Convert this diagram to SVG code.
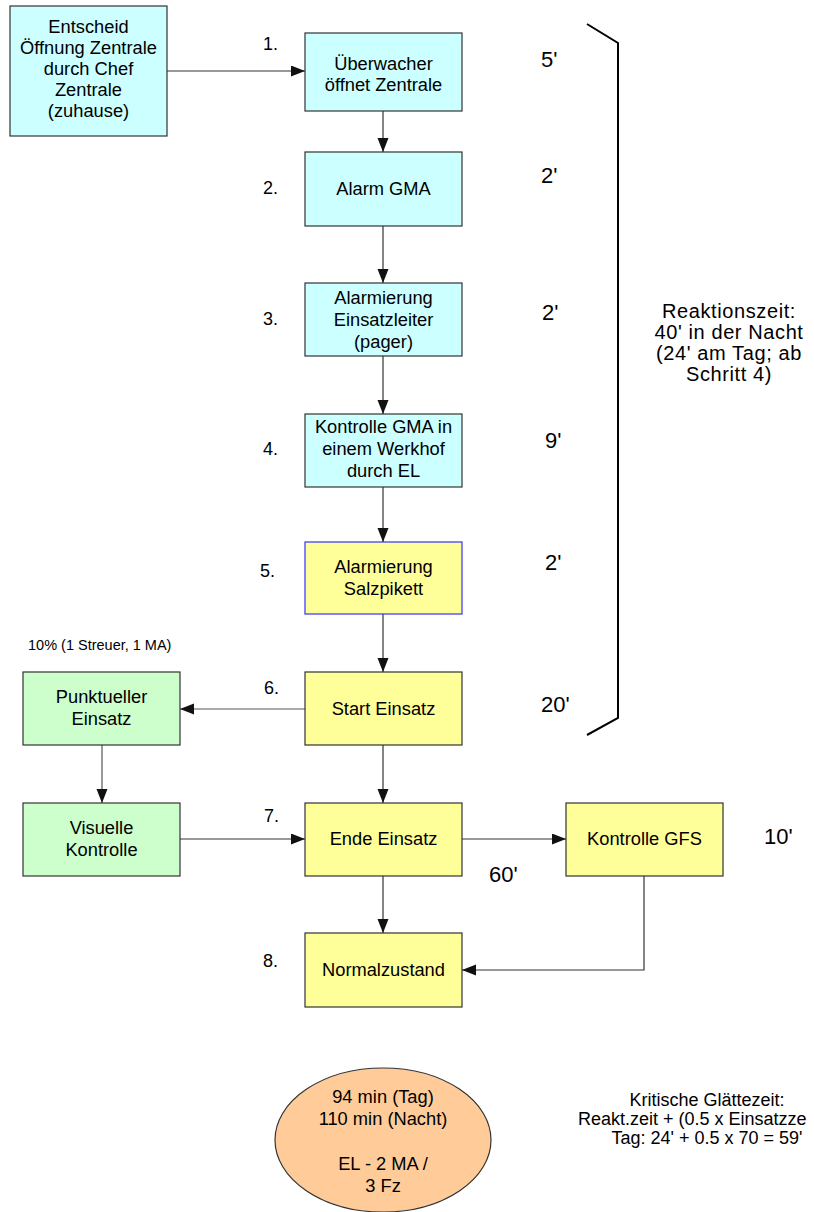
<svg xmlns="http://www.w3.org/2000/svg" width="814" height="1212" viewBox="0 0 814 1212">
<defs>
<style>
text{font-family:"Liberation Sans",Arial,sans-serif;fill:#000}
.bt{font-size:18.3px;text-anchor:middle}
.step{font-size:18px}
.time{font-size:22px}
.note{font-size:20px;letter-spacing:0.6px;text-anchor:middle}
.kg{font-size:18px}
.cyan{fill:#CCFFFF;stroke:#333;stroke-width:1.2}
.yel{fill:#FFFF99;stroke:#333;stroke-width:1.2}
.grn{fill:#CCFFCC;stroke:#333;stroke-width:1.2}
.conn{fill:none;stroke:#333;stroke-width:1.2}
</style>
<marker id="ah" markerUnits="userSpaceOnUse" markerWidth="15" markerHeight="12" refX="14" refY="5.5" orient="auto">
<path d="M0,0 L14,5.5 L0,11 z" fill="#111"/>
</marker>
</defs>
<rect width="814" height="1212" fill="#fff"/>

<g id="connectors">
<path class="conn" d="M167,71 H305" marker-end="url(#ah)"/>
<path class="conn" d="M383,111 V152" marker-end="url(#ah)"/>
<path class="conn" d="M383,226 V283" marker-end="url(#ah)"/>
<path class="conn" d="M383,356 V414" marker-end="url(#ah)"/>
<path class="conn" d="M383,487 V542" marker-end="url(#ah)"/>
<path class="conn" d="M383,614 V672" marker-end="url(#ah)"/>
<path class="conn" d="M305,709 H180" marker-end="url(#ah)" style="stroke:#555"/>
<path class="conn" d="M102,745 V803" marker-end="url(#ah)" style="stroke:#555"/>
<path class="conn" d="M180,839 H305" marker-end="url(#ah)"/>
<path class="conn" d="M383,745 V803" marker-end="url(#ah)"/>
<path class="conn" d="M462,839 H566" marker-end="url(#ah)"/>
<path class="conn" d="M383,876 V933" marker-end="url(#ah)"/>
<path class="conn" d="M644,876 V970 H462" marker-end="url(#ah)"/>
</g>

<g id="bracket">
<path d="M587,24 L618,43 V718 L587,735" fill="none" stroke="#000" stroke-width="2"/>
</g>

<g id="n0">
<rect class="cyan" x="10" y="6" width="157" height="130"/>
<text class="bt" x="88.5" y="33">Entscheid</text>
<text class="bt" x="88.5" y="54">Öffnung Zentrale</text>
<text class="bt" x="88.5" y="75">durch Chef</text>
<text class="bt" x="88.5" y="96">Zentrale</text>
<text class="bt" x="88.5" y="117">(zuhause)</text>
</g>
<g id="n1">
<rect class="cyan" x="305" y="33" width="157" height="78"/>
<text class="bt" x="383.5" y="70">Überwacher</text>
<text class="bt" x="383.5" y="91">öffnet Zentrale</text>
</g>
<g id="n2">
<rect class="cyan" x="305" y="152" width="157" height="74"/>
<text class="bt" x="383.5" y="195">Alarm GMA</text>
</g>
<g id="n3">
<rect class="cyan" x="305" y="283" width="157" height="73"/>
<text class="bt" x="383.5" y="304">Alarmierung</text>
<text class="bt" x="383.5" y="326">Einsatzleiter</text>
<text class="bt" x="383.5" y="348">(pager)</text>
</g>
<g id="n4">
<rect class="cyan" x="305" y="414" width="157" height="73"/>
<text class="bt" x="383.5" y="433">Kontrolle GMA in</text>
<text class="bt" x="383.5" y="455">einem Werkhof</text>
<text class="bt" x="383.5" y="477">durch EL</text>
</g>
<g id="n5">
<rect x="305" y="542" width="157" height="72" fill="#FFFF99" stroke="#3333FF" stroke-width="1.2"/>
<text class="bt" x="383.5" y="573">Alarmierung</text>
<text class="bt" x="383.5" y="595">Salzpikett</text>
</g>
<g id="n6">
<rect class="yel" x="305" y="672" width="157" height="73"/>
<text class="bt" x="383.5" y="715">Start Einsatz</text>
</g>
<g id="n6b">
<rect class="grn" x="23" y="672" width="157" height="73"/>
<text class="bt" x="101.5" y="703">Punktueller</text>
<text class="bt" x="101.5" y="725">Einsatz</text>
</g>
<g id="n7b">
<rect class="grn" x="23" y="803" width="157" height="73"/>
<text class="bt" x="101.5" y="834">Visuelle</text>
<text class="bt" x="101.5" y="856">Kontrolle</text>
</g>
<g id="n7">
<rect class="yel" x="305" y="803" width="157" height="73"/>
<text class="bt" x="383.5" y="845">Ende Einsatz</text>
</g>
<g id="n7c">
<rect class="yel" x="566" y="803" width="157" height="73"/>
<text class="bt" x="644.5" y="845">Kontrolle GFS</text>
</g>
<g id="n8">
<rect class="yel" x="305" y="933" width="157" height="74"/>
<text class="bt" x="383.5" y="976">Normalzustand</text>
</g>
<g id="summary">
<ellipse cx="383" cy="1140" rx="108" ry="72" fill="#FFCC99" stroke="#333" stroke-width="1.2"/>
<text class="bt" x="383" y="1103">94 min (Tag)</text>
<text class="bt" x="383" y="1125">110 min (Nacht)</text>
<text class="bt" x="383" y="1170">EL - 2 MA /</text>
<text class="bt" x="383" y="1192">3 Fz</text>
</g>

<g id="steps">
<text class="step" x="263" y="50">1.</text>
<text class="step" x="263" y="194">2.</text>
<text class="step" x="263" y="325">3.</text>
<text class="step" x="263" y="455">4.</text>
<text class="step" x="260" y="577">5.</text>
<text class="step" x="264" y="694">6.</text>
<text class="step" x="264" y="822">7.</text>
<text class="step" x="263" y="967">8.</text>
</g>
<g id="times">
<text class="time" x="541" y="67">5'</text>
<text class="time" x="541" y="183">2'</text>
<text class="time" x="542" y="320">2'</text>
<text class="time" x="545" y="448">9'</text>
<text class="time" x="545" y="570">2'</text>
<text class="time" x="541" y="712">20'</text>
<text class="time" x="764" y="844">10'</text>
<text class="time" x="489" y="882">60'</text>
</g>
<g id="notes">
<text class="note" x="729" y="318">Reaktionszeit:</text>
<text class="note" x="729" y="339">40' in der Nacht</text>
<text class="note" x="729" y="360">(24' am Tag; ab</text>
<text class="note" x="729" y="381">Schritt 4)</text>
<text x="28" y="650" style="font-size:14.5px">10% (1 Streuer, 1 MA)</text>
<text class="kg" x="707" y="1106" text-anchor="middle">Kritische Glättezeit:</text>
<text class="kg" x="578" y="1125">Reakt.zeit + (0.5 x Einsatzze</text>
<text class="kg" x="707" y="1144" text-anchor="middle">Tag: 24' + 0.5 x 70 = 59'</text>
</g>
</svg>
